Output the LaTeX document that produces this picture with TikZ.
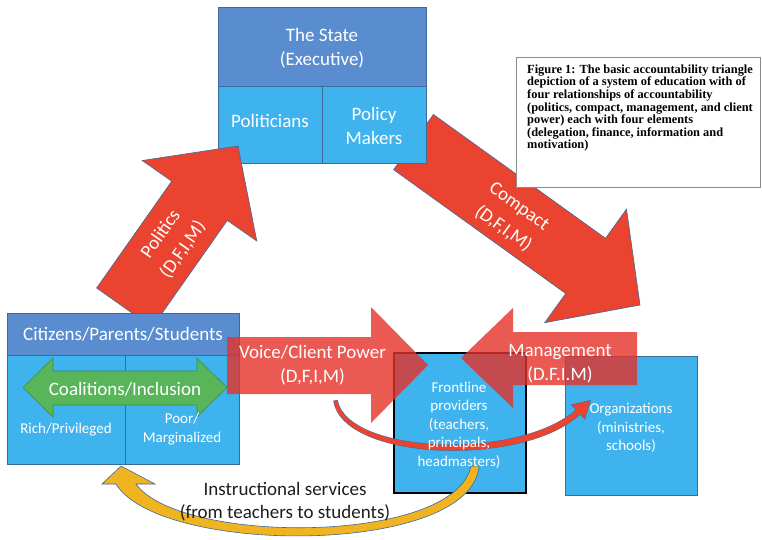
\documentclass[tikz,border=0pt]{standalone}
\usepackage{fontspec}
\setmainfont{Carlito}
\newfontfamily\capfont{Liberation Serif}
\usetikzlibrary{arrows.meta}
\definecolor{hdrblue}{HTML}{5A8DCF}
\definecolor{boxblue}{HTML}{3FB3EE}
\definecolor{edgeblue}{HTML}{3E6A9A}
\definecolor{arrred}{HTML}{EA4430}
\definecolor{trred}{RGB}{229,49,41}
\definecolor{grn}{HTML}{58B55A}
\definecolor{grnedge}{HTML}{3F8F45}
\definecolor{gold}{HTML}{EFB420}
\definecolor{darktxt}{HTML}{1E1E1E}
\begin{document}
\begin{tikzpicture}[x=1pt,y=-1pt,
  hdr/.style={draw=edgeblue, line width=0.8pt, fill=hdrblue, inner sep=0pt},
  cell/.style={draw=edgeblue, line width=0.8pt, fill=boxblue, inner sep=0pt},
  bigarrow/.style={draw=edgeblue, line width=0.6pt, fill=arrred},
  transarrow/.style={fill=trred, fill opacity=0.8, draw=none},
  wtxt/.style={text=white, font=\fontsize{19}{24}\selectfont, align=center, inner sep=0pt},
  rtxt/.style={text=white, font=\fontsize{19}{27}\selectfont, align=center, inner sep=0pt},
  stxt/.style={text=white, font=\fontsize{15}{18.5}\selectfont, align=center, inner sep=0pt},
]
\useasboundingbox (0,0) rectangle (762,539);
\fill[white] (0,0) rectangle (762,539);

% Compact arrow (behind the State box)
\draw[bigarrow] (433.4,114.5) -- (605.5,238.3) -- (626.5,209.1) -- (640,305)
  -- (544.7,322.7) -- (565.7,293.5) -- (393.6,169.7) -- cycle;

% The State
\node[hdr, minimum width=208pt, minimum height=79pt] (state) at (322,46.5) {};
\node[cell, minimum width=104pt, minimum height=77pt] (pol) at (270,124.5) {};
\node[cell, minimum width=104pt, minimum height=77pt] (pm) at (374,124.5) {};

% Politics arrow
\draw[bigarrow] (96.6,288) -- (171.7,181.2) -- (142.2,160.5) -- (238,146)
  -- (256.8,241) -- (227.3,220.4) -- (152.2,327.2) -- cycle;

% Citizens box
\node[hdr, minimum width=232pt, minimum height=42pt] (cit) at (123,334) {};
\node[cell, minimum width=118pt, minimum height=109pt] (rich) at (66,409.5) {};
\node[cell, minimum width=114pt, minimum height=109pt] (poor) at (182,409.5) {};

% Coalitions double arrow
\draw[fill=grn, draw=grnedge, line width=0.6pt] (23,387.5) -- (53,358) -- (53,371) -- (197,371)
  -- (197,358) -- (227,387.5) -- (197,417) -- (197,405) -- (53,405) -- (53,417) -- cycle;

% Frontline and Organizations
\node[fill=boxblue, draw=black, line width=1.4pt, minimum width=132pt, minimum height=140pt, inner sep=0pt] (front) at (460,423) {};
\node[cell, minimum width=132pt, minimum height=139pt] (org) at (631,425.5) {};

% Voice / Client power arrow
\fill[transarrow] (227,337) -- (371,337) -- (371,307) -- (428,365) -- (371,423)
  -- (371,394) -- (227,394) -- cycle;
% Management arrow
\fill[transarrow] (637,332) -- (513,332) -- (513,308) -- (461,358) -- (513,408)
  -- (513,385) -- (637,385) -- cycle;

% red curved arrow
\draw[fill=arrred, draw=edgeblue, line width=0.4pt]
  (333.5,401) .. controls (343,461) and (523,468) .. (580.0,414.2)
  -- (584.8,419.3) -- (590.4,400.4) -- (571.2,404.7) -- (576.0,409.8)
  .. controls (518,461) and (347,454) .. (337.5,400) -- cycle;

% yellow curved arrow
\draw[fill=gold, draw=edgeblue, line width=0.6pt]
  (479,466) .. controls (472,556) and (160,556) .. (116,484)
  -- (102,484) -- (121,466) -- (155,484) -- (136,484)
  .. controls (180,545) and (455,545) .. (471,466) -- cycle;

% texts
\node[wtxt] (tstate) at (322,48) {The State\\(Executive)};
\node[wtxt] (tpol) at (270,121) {Politicians};
\node[wtxt] (tpm) at (374,126) {Policy\\Makers};
\node[wtxt] (tcit) at (123,334) {Citizens/Parents/Students};
\node[wtxt] (tcoal) at (125,389) {Coalitions/Inclusion};
\node[stxt] (trich) at (66,430) {Rich/Privileged};
\node[stxt] (tpoor) at (182,429) {Poor/\\Marginalized};
\node[stxt] (tfront) at (459,425) {Frontline\\providers\\(teachers,\\principals,\\headmasters)};
\node[stxt] (torg) at (631,428) {Organizations\\(ministries,\\schools)};
\node[wtxt] (tvoice) at (312.5,365.5) {Voice/Client Power\\(D,F,I,M)};
\node[wtxt] (tman) at (560,363.5) {Management\\(D.F.I.M)};
\node[rtxt, rotate=54.9] (tpolit) at (172,242) {Politics\\(D,F,I,M)};
\node[rtxt, rotate=-35.7] (tcomp) at (511,218) {Compact\\(D,F,I,M)};
\node[text=darktxt, font=\fontsize{19}{23}\selectfont, align=center, inner sep=0pt] (tinstr) at (285,501.5) {Instructional services\\(from teachers to students)};

% caption
\node[draw=black!45, line width=0.6pt, fill=white, minimum width=244pt, minimum height=130pt, inner sep=0pt] (capbox) at (638,122) {};
\node[anchor=north west, inner sep=0pt, align=left, font=\capfont\bfseries\fontsize{12.4}{12.6}\selectfont] (captxt) at (527,64.5)
 {Figure 1: The basic accountability triangle\\
  depiction of a system of education with of\\
  four relationships of accountability\\
  (politics, compact, management, and client\\
  power) each with four elements\\
  (delegation, finance, information and\\
  motivation)};
\end{tikzpicture}
\end{document}
